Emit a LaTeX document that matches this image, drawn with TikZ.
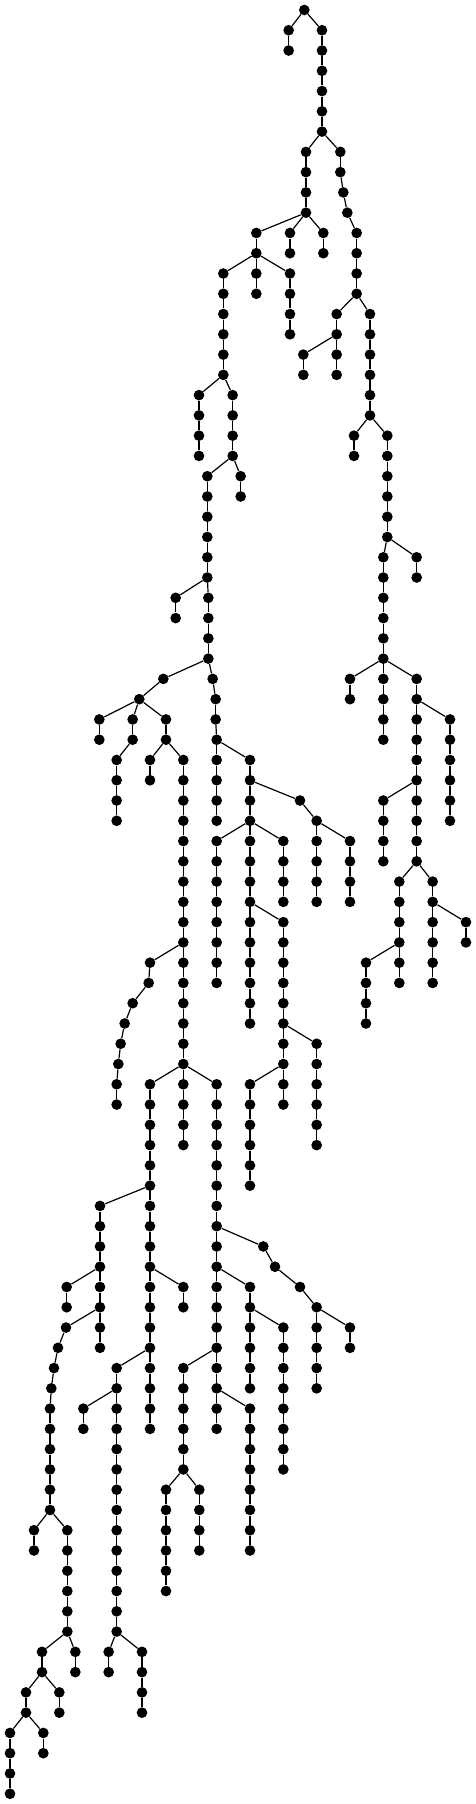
\documentclass[tikz,border=0pt]{standalone}
\tikzset{dot/.style={circle,fill=black,draw=none,inner sep=0pt,minimum size=8pt},
 edge/.style={line width=0.9pt,black}}
\begin{document}
\begin{tikzpicture}[x=0.25pt,y=-15.2025pt]
\useasboundingbox (0,-0.4933) rectangle (1428,88.507);
% vertical chains: x / first level / last level
\foreach \xv/\av/\bv in {913/0/0,866/1/2,966/1/6,918/7/10,1021/7/8,1030/9/9,1042/10/10,
 1070/11/14,769/11/14,870/11/12,970/11/12,870/13/16,670/13/18,1010/15/18,910/17/18,
 1110/15/20,597/19/22,698/19/22,1062/21/22,1162/21/26,622/23/28,722/23/24,
 1150/27/36,1250/27/28,527/29/30,625/29/32,490/33/33,638/33/33,647/34/35,
 650/36/40,750/37/50,900/39/39,950/40/44,1050/41/44,650/41/48,850/41/44,850/45/54,
 950/51/56,750/53/58,1050/33/34,1150/39/42,1250/33/42,1350/35/40,1198/43/48,
 1298/43/48,1398/45/46,1098/47/50,418/34/34,298/35/36,398/35/36,350/37/40,
 498/35/36,450/37/38,550/37/56,450/47/47,446/48/48,398/49/49,374/50/50,362/51/51,
 355/52/52,350/53/54,650/53/70,790/61/61,825/62/62,900/63/63,950/64/68,1050/65/66,
 750/63/68,850/65/72,550/67/72,750/69/76,498/73/78,598/73/76,300/59/66,200/63/64,
 198/65/65,174/66/66,162/67/67,154/68/68,150/69/74,102/75/76,202/75/80,126/81/82,
 226/81/82,78/83/84,178/83/84,30/85/88,130/85/86,450/53/70,550/63/64,350/67/80,
 250/69/70,326/81/82,426/81/84}{
  \foreach \lv in {\av,...,\bv}{
    \node[dot] (n\lv x\xv) at (\xv,\lv) {};
    \ifnum\lv>\av\relax
      \pgfmathtruncatemacro{\pv}{\lv-1}
      \draw[edge] (n\pv x\xv) -- (n\lv x\xv);
    \fi
  }
}
% branching connectors
\foreach \a/\b in {n0x913/n1x866,n0x913/n1x966,n6x966/n7x918,n6x966/n7x1021,
 n8x1021/n9x1030,n9x1030/n10x1042,n10x1042/n11x1070,n10x918/n11x769,n10x918/n11x870,
 n10x918/n11x970,n12x769/n13x670,n12x769/n13x870,n18x670/n19x597,n18x670/n19x698,
 n22x698/n23x622,n22x698/n23x722,n28x622/n29x527,n28x622/n29x625,n32x625/n33x490,
 n32x625/n33x638,n33x638/n34x647,n35x647/n36x650,n36x650/n37x750,n38x750/n39x900,
 n39x900/n40x950,n40x950/n41x1050,n40x750/n41x650,n40x750/n41x850,n44x750/n45x850,
 n50x850/n51x950,n52x850/n53x750,n33x490/n34x418,n34x418/n35x298,n34x418/n35x398,
 n34x418/n35x498,n36x398/n37x350,n36x498/n37x450,n36x498/n37x550,n46x550/n47x450,
 n47x450/n48x446,n48x446/n49x398,n49x398/n50x374,n50x374/n51x362,n51x362/n52x355,
 n52x355/n53x350,n52x550/n53x450,n52x550/n53x650,n60x650/n61x790,n61x790/n62x825,
 n62x825/n63x900,n63x900/n64x950,n64x950/n65x1050,n62x650/n63x750,n64x750/n65x850,
 n66x650/n67x550,n68x650/n69x750,n72x550/n73x498,n72x550/n73x598,n58x450/n59x300,
 n62x300/n63x200,n64x300/n65x198,n65x198/n66x174,n66x174/n67x162,n67x162/n68x154,
 n68x154/n69x150,n74x150/n75x102,n74x150/n75x202,n80x202/n81x126,n80x202/n81x226,
 n82x126/n83x78,n82x126/n83x178,n84x78/n85x30,n84x78/n85x130,n62x450/n63x550,
 n66x450/n67x350,n68x350/n69x250,n80x350/n81x326,n80x350/n81x426,
 n14x1070/n15x1010,n14x1070/n15x1110,n16x1010/n17x910,n20x1110/n21x1062,
 n20x1110/n21x1162,n26x1162/n27x1150,n26x1162/n27x1250,n32x1150/n33x1050,
 n32x1150/n33x1250,n34x1250/n35x1350,n38x1250/n39x1150,n42x1250/n43x1198,
 n42x1250/n43x1298,n46x1198/n47x1098,n44x1298/n45x1398}
 \draw[edge] (\a) -- (\b);
\end{tikzpicture}
\end{document}
